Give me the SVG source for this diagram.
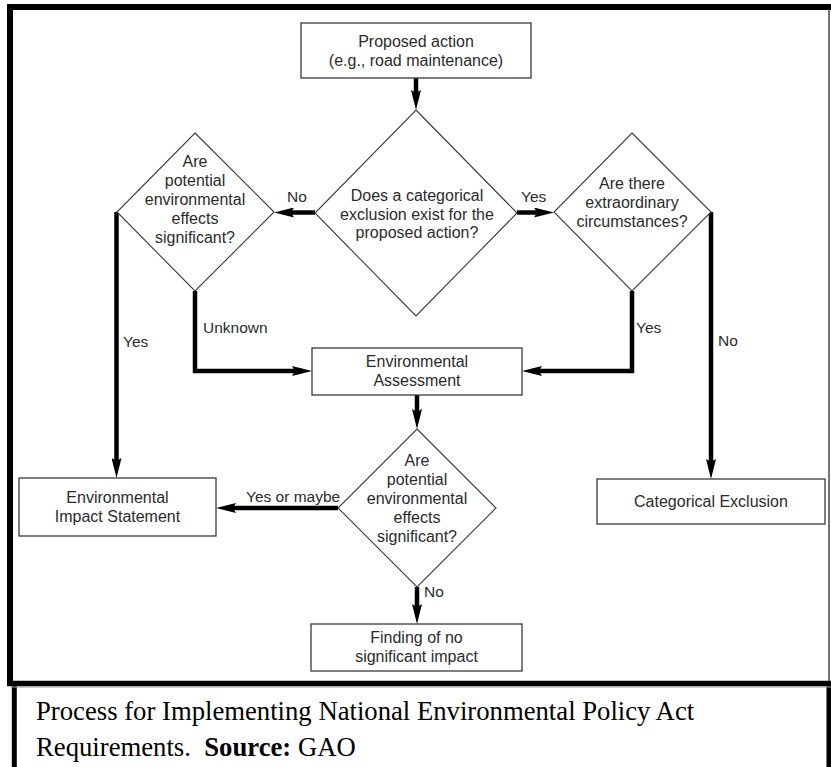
<svg xmlns="http://www.w3.org/2000/svg" width="831" height="767" viewBox="0 0 831 767">
<style>
.box{fill:#fff;stroke:#3a3a3a;stroke-width:1.3}
.dia{fill:#fff;stroke:#3a3a3a;stroke-width:1.1}
.t{font-family:"Liberation Sans",Arial,Helvetica,sans-serif;font-size:16px;fill:#2b2b2b;text-anchor:middle}
.lbl{font-family:"Liberation Sans",Arial,Helvetica,sans-serif;font-size:15.5px;fill:#2b2b2b}
.con{fill:none;stroke:#000;stroke-width:4.5;stroke-linejoin:miter;marker-end:url(#ah)}
.cap{font-family:"Liberation Serif","Times New Roman",serif;font-size:26.7px;fill:#000}
</style>
<defs>
<marker id="ah" viewBox="0 0 20 10" markerWidth="20" markerHeight="10" markerUnits="userSpaceOnUse" refX="10" refY="5" orient="auto">
<path d="M0,0 L20,5 L0,10 L3,5 z" fill="#000"/>
</marker>
</defs>
<rect width="831" height="767" fill="#fff"/>
<g id="frame">
<path d="M10,683.5 L10,7 L831,7" fill="none" stroke="#000" stroke-width="6"/>
<path d="M7,683.5 L831,683.5" fill="none" stroke="#000" stroke-width="5.5"/>
<line x1="829" y1="9" x2="829" y2="681" stroke="#444" stroke-width="1.5"/>
</g>
<g id="caption">
<line x1="14.3" y1="686" x2="14.3" y2="767" stroke="#000" stroke-width="5"/>
<line x1="829" y1="686" x2="829" y2="767" stroke="#000" stroke-width="5"/>
<line x1="12" y1="687" x2="831" y2="687" stroke="#999" stroke-width="1"/>
<text class="cap" x="36" y="720">Process for Implementing National Environmental Policy Act</text>
<text class="cap" x="36" y="756" xml:space="preserve">Requirements.  <tspan font-weight="bold">Source:</tspan> GAO</text>
</g>
<g id="connectors">
<path class="con" d="M416,78 L416,100"/>
<path class="con" d="M315,212.5 L284,212.5"/>
<path class="con" d="M517,212.5 L544,212.5"/>
<path class="con" d="M116.5,212 L116.5,468"/>
<path class="con" d="M195,291 L195,371 L302,371"/>
<path class="con" d="M632,291 L632,371 L532,371"/>
<path class="con" d="M711,212 L711,469"/>
<path class="con" d="M417,395 L417,419"/>
<path class="con" d="M338,508 L226,508"/>
<path class="con" d="M417,587 L417,614"/>
<text class="lbl" x="287" y="202">No</text>
<text class="lbl" x="521" y="202">Yes</text>
<text class="lbl" x="203" y="333">Unknown</text>
<text class="lbl" x="636" y="333">Yes</text>
<text class="lbl" x="123" y="347">Yes</text>
<text class="lbl" x="718" y="346">No</text>
<text class="lbl" x="246" y="502">Yes or maybe</text>
<text class="lbl" x="424" y="597">No</text>
</g>
<g id="proposed">
<rect class="box" x="301" y="23" width="230" height="55"/>
<text class="t" x="416" y="47">Proposed action</text>
<text class="t" x="416" y="66">(e.g., road maintenance)</text>
</g>
<g id="categorical-q">
<polygon class="dia" points="416,110 517,213 416,316 315,213"/>
<text class="t" x="417" y="201">Does a categorical</text>
<text class="t" x="417" y="219.5">exclusion exist for the</text>
<text class="t" x="417" y="238">proposed action?</text>
</g>
<g id="effects-q1">
<polygon class="dia" points="195,133 274,212 195,291 117,212"/>
<text class="t" x="195" y="167">Are</text>
<text class="t" x="195" y="186">potential</text>
<text class="t" x="195" y="205">environmental</text>
<text class="t" x="195" y="224">effects</text>
<text class="t" x="195" y="243">significant?</text>
</g>
<g id="extraordinary-q">
<polygon class="dia" points="632,133 711,212 632,291 554,212"/>
<text class="t" x="632" y="189">Are there</text>
<text class="t" x="632" y="208">extraordinary</text>
<text class="t" x="632" y="227">circumstances?</text>
</g>
<g id="ea">
<rect class="box" x="312" y="348" width="210" height="47"/>
<text class="t" x="417" y="367">Environmental</text>
<text class="t" x="417" y="386">Assessment</text>
</g>
<g id="effects-q2">
<polygon class="dia" points="417,429 496,508 417,587 338,508"/>
<text class="t" x="417" y="466">Are</text>
<text class="t" x="417" y="485">potential</text>
<text class="t" x="417" y="504">environmental</text>
<text class="t" x="417" y="523">effects</text>
<text class="t" x="417" y="542">significant?</text>
</g>
<g id="eis">
<rect class="box" x="19" y="478" width="197" height="58"/>
<text class="t" x="117.5" y="503">Environmental</text>
<text class="t" x="117.5" y="522">Impact Statement</text>
</g>
<g id="ce">
<rect class="box" x="597" y="479" width="228" height="45"/>
<text class="t" x="711" y="507">Categorical Exclusion</text>
</g>
<g id="fonsi">
<rect class="box" x="311" y="624" width="211" height="47"/>
<text class="t" x="416.5" y="643">Finding of no</text>
<text class="t" x="416.5" y="662">significant impact</text>
</g>
</svg>
